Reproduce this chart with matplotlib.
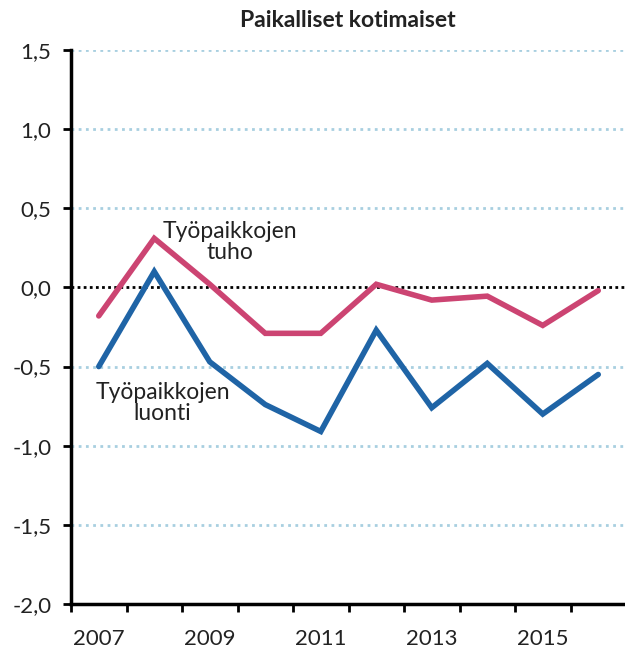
import matplotlib
matplotlib.use("Agg")
import matplotlib.pyplot as plt
import numpy as np

years = [2007, 2008, 2009, 2010, 2011, 2012, 2013, 2014, 2015, 2016]
tuho = [-0.18, 0.31, 0.02, -0.29, -0.29, 0.02, -0.08, -0.055, -0.24, -0.02]
luonti = [-0.50, 0.10, -0.47, -0.74, -0.91, -0.27, -0.76, -0.48, -0.80, -0.55]
yticks = [1.5, 1.0, 0.5, 0.0, -0.5, -1.0, -1.5, -2.0]
xlabels = [2007, 2009, 2011, 2013, 2015]
title = "Paikalliset kotimaiset"

plt.rcParams['font.family'] = ['Lato', 'DejaVu Sans']

fig = plt.figure(figsize=(6.25, 6.53), dpi=100)
ax = fig.add_axes([71/625, 1-604/653, 555/625, (604-50)/653])

# grid lines
for v in yticks:
    if v == 0:
        ax.axhline(v, color='black', lw=2.0, ls=(0, (1, 1.2)), zorder=2)
    elif v > -2.0:
        ax.axhline(v, color='#a8cfe0', lw=2.0, ls=(0, (1, 1.6)), zorder=1)

ax.plot(years, tuho, color='#cc4472', lw=4.0, solid_capstyle='round', solid_joinstyle='miter', zorder=3)
ax.plot(years, luonti, color='#1f64a6', lw=4.0, solid_capstyle='round', solid_joinstyle='miter', zorder=3)

ax.set_xlim(2006.5, 2016.5)
ax.set_ylim(-2.0, 1.5)

ax.set_yticks(yticks)
ax.set_yticklabels([f"{v:.1f}".replace('.', ',') for v in yticks])
ax.set_xticks(xlabels)
ax.set_xticklabels([str(x) for x in xlabels])
ax.set_xticks(np.arange(2006.5, 2017, 1.0), minor=True)

for s in ['top', 'right']:
    ax.spines[s].set_visible(False)
for s in ['left', 'bottom']:
    ax.spines[s].set_linewidth(2.5)
    ax.spines[s].set_color('black')

ax.tick_params(axis='y', direction='out', length=6, width=2, pad=8, labelsize=16, labelcolor='#222222', color='black')
ax.tick_params(axis='x', which='major', length=0, pad=18, labelsize=16, labelcolor='#222222')
ax.tick_params(axis='x', which='minor', direction='out', length=6, width=2, color='black')

ax.text(2009.37, 0.285, "Työpaikkojen\ntuho", ha='center', va='center', fontsize=16.5,
        color='#222222', linespacing=1.0)
ax.text(2008.15, -0.73, "Työpaikkojen\nluonti", ha='center', va='center', fontsize=16.5,
        color='#222222', linespacing=1.0)

fig.text(348/625, 1-27/653, title, ha='center', va='baseline', fontsize=16.5, fontweight='bold', color='#222222')

fig.savefig("out.png", dpi=100)
